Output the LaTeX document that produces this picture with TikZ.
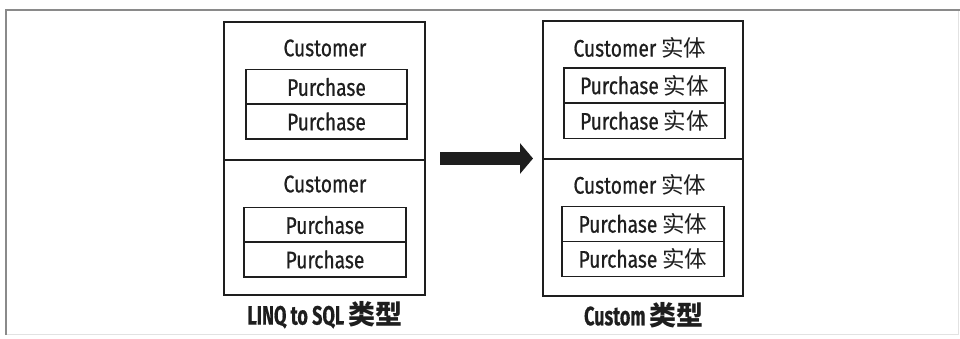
\documentclass[tikz,border=0pt]{standalone}
\usepackage{fontspec}
\setmainfont[FakeStretch=0.8, FakeBold=0.6,
  BoldFeatures={FakeStretch=0.68, FakeBold=0.4}]{Fira Sans}
\newfontfamily\cjk{Noto Sans CJK SC}
\usetikzlibrary{arrows.meta}
\definecolor{ink}{HTML}{1E1E1E}
\definecolor{frame}{HTML}{8A8A8A}
\definecolor{faint}{HTML}{E2E2E2}
\newcommand{\shiti}{{\cjk\fontsize{22.5}{22.5}\selectfont 实体}}
\newcommand{\leixing}{{\cjk\bfseries\fontsize{27}{27}\selectfont 类型}}
\tikzset{
  section/.style={draw=ink, line width=1.6pt, minimum width=#1, inner sep=0pt},
  item/.style={draw=ink, line width=1.6pt, minimum height=35pt, inner sep=0pt,
               font=\fontsize{24}{24}\selectfont, text=ink},
  caption/.style={font=\fontsize{24}{24}\selectfont, text=ink, inner sep=0pt},
  title/.style={font=\bfseries\fontsize{26.5}{26.5}\selectfont, text=ink, inner sep=0pt},
}
\begin{document}
\begin{tikzpicture}[x=1pt, y=-1pt]
  \useasboundingbox (0,0) rectangle (960,339);
  \fill[white] (0,0) rectangle (960,339);
  % page frame
  \draw[faint, line width=1pt] (958,10) -- (958,334) -- (6,334);
  \draw[frame, line width=2pt] (960,10) -- (6,10) -- (6,335);

  % LINQ to SQL side
  \node[section=201pt, minimum height=138pt] (L1) at (324.5,91) {};
  \node[section=201pt, minimum height=135pt] (L2) at (324.5,227.5) {};
  \node[caption] (Lc1) at (325,48) {Customer};
  \node[item, minimum width=161pt] (Lp1) at (326.5,87) {Purchase};
  \node[item, minimum width=161pt] (Lp2) at (326.5,121.5) {Purchase};
  \node[caption] (Lc2) at (325,184) {Customer};
  \node[item, minimum width=162pt] (Lp3) at (325,225) {Purchase};
  \node[item, minimum width=162pt] (Lp4) at (325,259.5) {Purchase};
  \node[title] (Lt) at (325,315) {LINQ to SQL \leixing};

  % Custom side
  \node[section=200pt, minimum height=138pt] (R1) at (643,90) {};
  \node[section=200pt, minimum height=137pt] (R2) at (643,227.5) {};
  \node[caption] (Rc1) at (640,48) {Customer \shiti};
  \node[item, minimum width=161pt] (Rp1) at (644.5,85.5) {Purchase \shiti};
  \node[item, minimum width=161pt] (Rp2) at (644.5,121) {Purchase \shiti};
  \node[caption] (Rc2) at (640,185) {Customer \shiti};
  \node[item, minimum width=162pt] (Rp3) at (643,224) {Purchase \shiti};
  \node[item, minimum width=162pt] (Rp4) at (643,259) {Purchase \shiti};
  \node[title] (Rt) at (644,315) {Custom \leixing};

  % conversion arrow
  \coordinate (aS) at (440,158.5);
  \coordinate (aE) at (533,158.5);
  \draw[ink, line width=13pt, -{Triangle[length=13pt, width=30pt]}] (aS) -- (aE);
\end{tikzpicture}
\end{document}
